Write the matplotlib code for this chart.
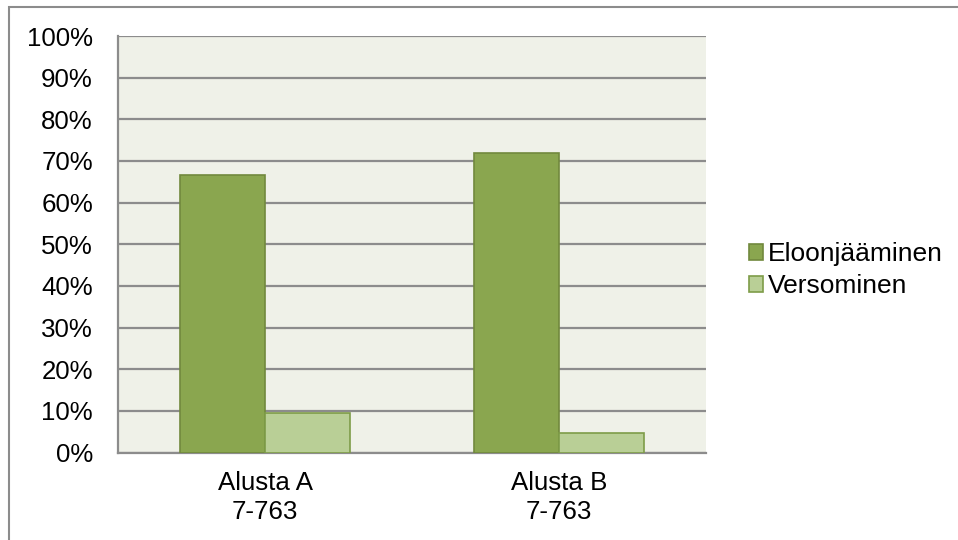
import matplotlib.pyplot as plt
import numpy as np
from matplotlib.patches import Rectangle

categories = ["Alusta A\n7-763", "Alusta B\n7-763"]
series_names = ["Eloonjääminen", "Versominen"]
eloonjaaminen = [66.6, 71.8]
versominen = [9.5, 4.6]
y_ticks = list(range(0, 101, 10))
y_tick_labels = [f"{t}%" for t in y_ticks]

plt.rcParams['font.family'] = ['Liberation Sans', 'DejaVu Sans']

fig = plt.figure(figsize=(9.58, 5.40), dpi=100)
ax = fig.add_axes([118 / 958, 1 - 452.5 / 540, (706 - 118) / 958, (452.5 - 36) / 540])

# outer chart border (only left/top visible in the reference)
fig.patches.append(Rectangle((9 / 958, -0.1), 1.2, 1 - 7 / 540 + 0.1,
                             transform=fig.transFigure, fill=False,
                             edgecolor='#8c8c8c', linewidth=1.5))

x = np.arange(len(categories))
w = 0.288
ax.bar(x - w / 2, eloonjaaminen, w, color='#8aa64f', edgecolor='#71893d',
       linewidth=1.2, label=series_names[0], zorder=3)
ax.bar(x + w / 2, versominen, w, color='#b9cf96', edgecolor='#7e9c48',
       linewidth=1.2, label=series_names[1], zorder=3)

ax.set_facecolor('#eff1e8')
ax.set_xlim(-0.5, 1.5)
ax.set_ylim(0, 100)
ax.set_yticks(y_ticks)
ax.set_yticklabels(y_tick_labels)
ax.set_xticks(x)
ax.set_xticklabels(categories, linespacing=1.3)
ax.tick_params(axis='both', length=0, labelsize=18.6, colors='black')
ax.tick_params(axis='y', pad=18)
ax.tick_params(axis='x', pad=13)
ax.yaxis.grid(True, color='#8c8c8c', linewidth=1.6, zorder=1)
ax.set_axisbelow(True)
for side in ['top', 'right']:
    ax.spines[side].set_visible(False)
for side in ['left', 'bottom']:
    ax.spines[side].set_color('#8c8c8c')
    ax.spines[side].set_linewidth(1.6)

fig.legend(loc='center left', bbox_to_anchor=(738 / 958, 1 - 270 / 540),
           frameon=False, fontsize=19, handlelength=0.55, handleheight=0.55,
           handletextpad=0.2, labelspacing=0.3, borderaxespad=0)

fig.savefig('out.png', dpi=100)
